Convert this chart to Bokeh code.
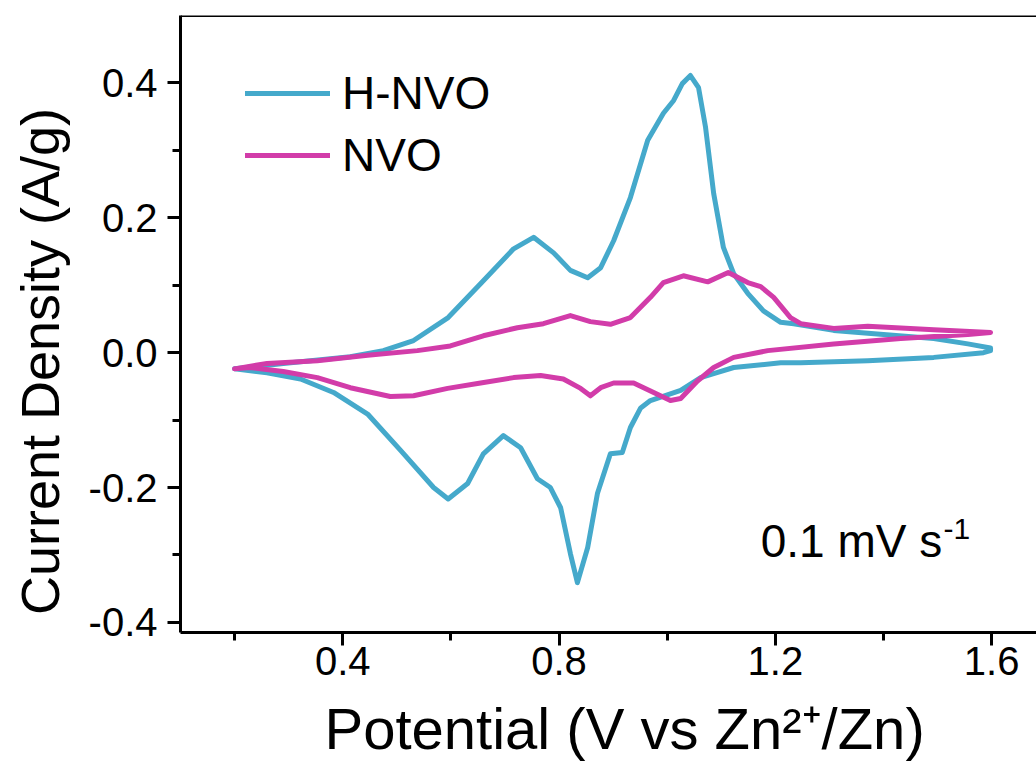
from bokeh.plotting import figure
from bokeh.models import FixedTicker, PrintfTickFormatter, Legend, LegendItem, Span, Label, Range1d
from bokeh.embed import file_html
from bokeh.resources import INLINE

# H-NVO cyclic voltammogram (anodic then cathodic sweep), V and A/g
hnvo_v = [0.200, 0.290, 0.414, 0.475, 0.531, 0.595, 0.657, 0.716, 0.753, 0.790, 0.821, 0.853,
          0.877, 0.901, 0.932, 0.964, 0.993, 1.012, 1.028, 1.043, 1.058, 1.071, 1.086, 1.104,
          1.123, 1.149, 1.178, 1.210, 1.234, 1.308, 1.400, 1.493, 1.556, 1.598,
          1.598, 1.585, 1.493, 1.371, 1.247, 1.210, 1.123, 1.086, 1.062, 1.025, 0.969, 0.951,
          0.932, 0.917, 0.895, 0.871, 0.853, 0.834, 0.821, 0.803, 0.784, 0.760, 0.729, 0.697,
          0.660, 0.631, 0.595, 0.568, 0.507, 0.446, 0.383, 0.322, 0.260, 0.200]
hnvo_j = [-0.024, -0.016, -0.006, 0.003, 0.018, 0.052, 0.104, 0.154, 0.171, 0.148, 0.122, 0.111,
          0.126, 0.166, 0.230, 0.315, 0.355, 0.374, 0.399, 0.411, 0.393, 0.334, 0.236, 0.156,
          0.117, 0.088, 0.062, 0.045, 0.043, 0.033, 0.027, 0.021, 0.013, 0.007,
          0.003, 0.000, -0.007, -0.012, -0.015, -0.015, -0.022, -0.031, -0.037, -0.056, -0.071, -0.082,
          -0.111, -0.148, -0.150, -0.209, -0.289, -0.341, -0.298, -0.230, -0.200, -0.187, -0.141, -0.123,
          -0.150, -0.194, -0.217, -0.200, -0.145, -0.091, -0.059, -0.039, -0.030, -0.024]

# NVO cyclic voltammogram
nvo_v = [0.200, 0.260, 0.353, 0.446, 0.538, 0.599, 0.660, 0.723, 0.771, 0.821, 0.858, 0.895,
         0.932, 0.969, 0.993, 1.030, 1.075, 1.113, 1.149, 1.173, 1.197, 1.228, 1.247, 1.308,
         1.371, 1.493, 1.598,
         1.556, 1.432, 1.308, 1.186, 1.123, 1.086, 1.056, 1.025, 1.006, 0.975, 0.938, 0.901,
         0.877, 0.858, 0.840, 0.808, 0.766, 0.716, 0.655, 0.594, 0.531, 0.488, 0.414, 0.353,
         0.290, 0.229, 0.200]
nvo_j = [-0.024, -0.016, -0.012, -0.004, 0.003, 0.010, 0.025, 0.037, 0.043, 0.055, 0.046, 0.042,
         0.052, 0.082, 0.104, 0.114, 0.105, 0.119, 0.104, 0.098, 0.082, 0.052, 0.043, 0.036,
         0.039, 0.034, 0.030,
         0.027, 0.021, 0.013, 0.003, -0.007, -0.022, -0.042, -0.068, -0.071, -0.059, -0.045, -0.045,
         -0.052, -0.064, -0.053, -0.039, -0.034, -0.037, -0.045, -0.053, -0.064, -0.065, -0.052, -0.037,
         -0.028, -0.022, -0.024]

x_ticks = [0.4, 0.8, 1.2, 1.6]
x_minor = [0.2, 0.6, 1.0, 1.4]
y_ticks = [-0.4, -0.2, 0.0, 0.2, 0.4]
y_minor = [-0.3, -0.1, 0.1, 0.3]

FONT = "Liberation Sans"
BLUE = "#45A9CB"
MAGENTA = "#D23CA9"
NBSP = "\u00a0"

p = figure(width=1036, height=778, output_backend="svg", toolbar_location=None,
           x_range=Range1d(0.1, 1.683), y_range=Range1d(-0.415, 0.5),
           min_border_left=180, min_border_right=0, min_border_top=15, min_border_bottom=146)
p.outline_line_color = None
p.xgrid.visible = False
p.ygrid.visible = False
p.background_fill_color = "white"
p.border_fill_color = "white"

r1 = p.line(hnvo_v, hnvo_j, line_color=BLUE, line_width=5, line_join="round", line_cap="round")
r2 = p.line(nvo_v, nvo_j, line_color=MAGENTA, line_width=5, line_join="round", line_cap="round")

p.add_layout(Span(location=0.5, dimension="width", line_color="black", line_width=3))

for ax in (p.xaxis[0], p.yaxis[0]):
    ax.axis_line_width = 3
    ax.axis_line_color = "black"
    ax.major_tick_line_width = 3
    ax.minor_tick_line_width = 3
    ax.major_tick_in = 0
    ax.major_tick_out = 13
    ax.minor_tick_in = 0
    ax.minor_tick_out = 8
    ax.major_label_text_font = FONT
    ax.major_label_text_font_size = "40px"
    ax.major_label_text_color = "black"
    ax.axis_label_text_font = FONT
    ax.axis_label_text_font_style = "normal"
    ax.axis_label_text_color = "black"
    ax.formatter = PrintfTickFormatter(format="%.1f")

p.xaxis[0].ticker = FixedTicker(ticks=x_ticks, minor_ticks=x_minor)
p.yaxis[0].ticker = FixedTicker(ticks=y_ticks, minor_ticks=y_minor)
p.xaxis[0].major_label_standoff = 1
p.yaxis[0].major_label_standoff = 10
# non-breaking spaces shift the centred titles to where the reference has them
p.xaxis[0].axis_label = NBSP * 2 + "Potential (V vs Zn\u00b2\u207a/Zn)"
p.yaxis[0].axis_label = "Current Density (A/g)" + NBSP * 5
p.xaxis[0].axis_label_text_font_size = "58px"
p.yaxis[0].axis_label_text_font_size = "54px"
p.xaxis[0].axis_label_standoff = 18
p.yaxis[0].axis_label_standoff = 16

legend = Legend(items=[LegendItem(label="H-NVO", renderers=[r1]),
                       LegendItem(label="NVO", renderers=[r2])],
                location=(65, 450), border_line_color=None, background_fill_alpha=0,
                glyph_width=85, glyph_height=50, label_height=50, spacing=8,
                padding=0, margin=0, label_standoff=12,
                label_text_font=FONT, label_text_font_size="46px", label_text_color="black")
p.add_layout(legend)

lab = dict(text_font=FONT, text_color="black")
p.add_layout(Label(x=1.173, y=-0.279, text="0.1 mV s", text_font_size="46px",
                   text_baseline="alphabetic", **lab))
p.add_layout(Label(x=1.5112, y=-0.2611, text="-1", text_font_size="30px",
                   text_baseline="alphabetic", **lab))

open("out.html", "w").write(file_html(p, INLINE))
